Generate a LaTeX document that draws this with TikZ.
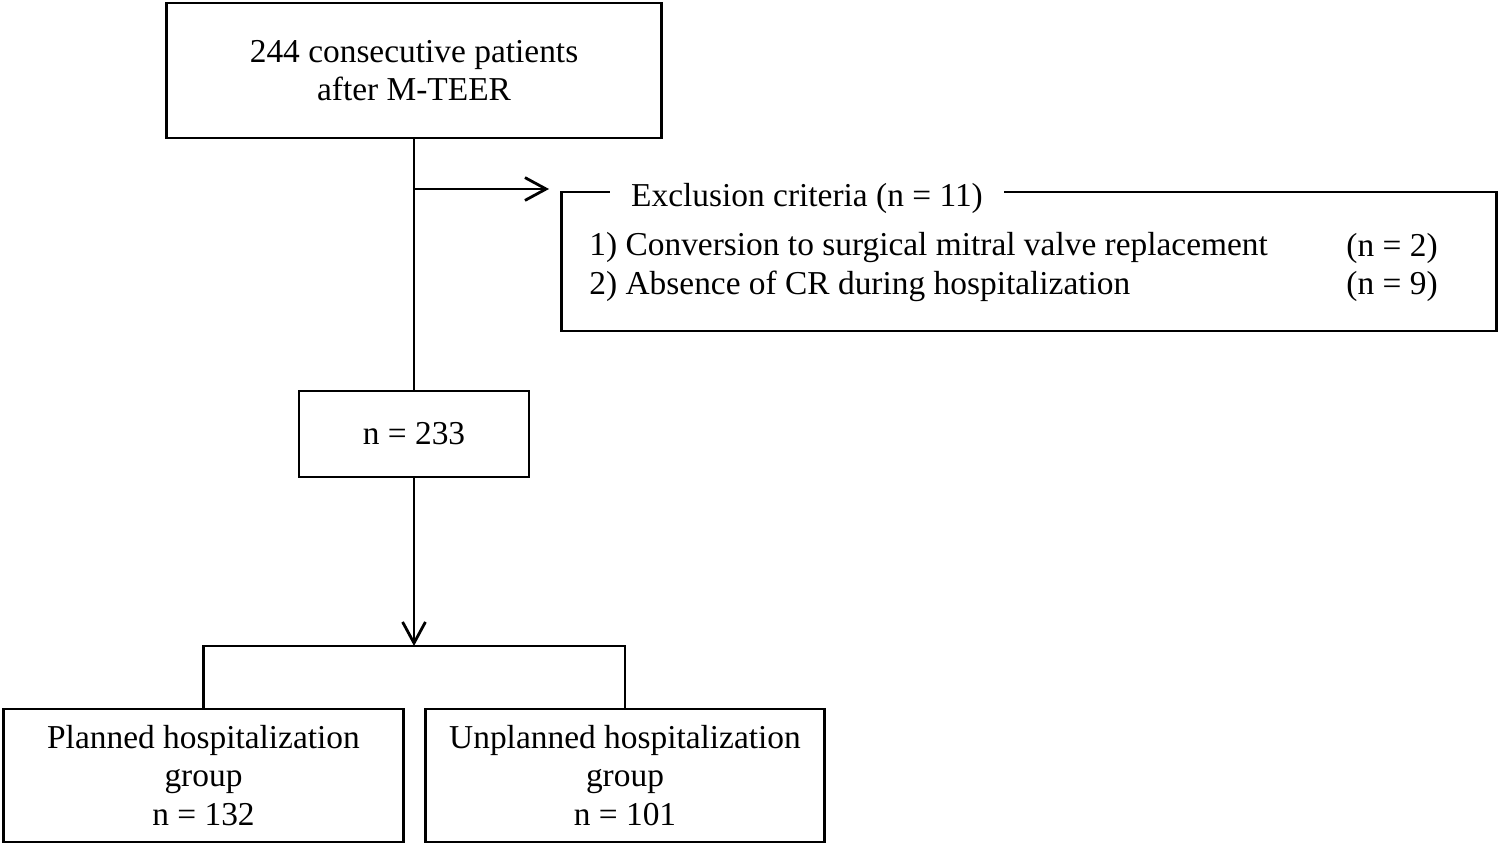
\documentclass[tikz,border=0pt]{standalone}
\usepackage{fontspec}
\setmainfont{Liberation Serif}
\usetikzlibrary{arrows.meta,calc}
\begin{document}
\begin{tikzpicture}[x=0.01cm,y=-0.01cm,line width=0.8pt,
  box/.style={draw,line width=0.8pt,inner sep=0pt,align=center,font=\fontsize{9.5}{11}\selectfont},
  arr/.style={-{Straight Barb[length=6pt,width=6.5pt,line width=0.8pt]}},
  txt/.style={font=\fontsize{9.5}{11}\selectfont,inner sep=0pt}]
\useasboundingbox (0,0) rectangle (1498,846);
\node[box,minimum width=4.94cm,minimum height=1.35cm] (top) at (414,70.5) {244 consecutive patients\\after M-TEER};
\node[box,minimum width=9.34cm,minimum height=1.39cm] (excl) at (1029,261.5) {};
\node[txt,fill=white,inner xsep=6pt,inner ysep=1pt] (exttl) at (807,198) {Exclusion criteria (n = 11)};
\node[txt,anchor=west] (c1) at (588,248) {1) Conversion to surgical mitral valve replacement};
\node[txt,anchor=west] (c1n) at (1345,248) {(n = 2)};
\node[txt,anchor=west] (c2) at (588,286) {2) Absence of CR during hospitalization};
\node[txt,anchor=west] (c2n) at (1345,286) {(n = 9)};
\node[box,minimum width=2.30cm,minimum height=0.86cm] (n233) at (414,434) {n = 233};
\node[box,minimum width=3.99cm,minimum height=1.33cm] (planned) at (203.5,775.5) {Planned hospitalization\\group\\n = 132};
\node[box,minimum width=3.98cm,minimum height=1.33cm] (unplanned) at (625,775.5) {Unplanned hospitalization\\group\\n = 101};
\coordinate (j1) at (414,189);
\coordinate (exend) at (549,189);
\coordinate (split) at (414,646);
\draw (top.south) -- (n233.north);
\draw[arr] (j1) -- (exend);
\draw[arr] (n233.south) -- (split);
\draw (planned.north) |- (split) -| (unplanned.north);
\end{tikzpicture}
\end{document}
